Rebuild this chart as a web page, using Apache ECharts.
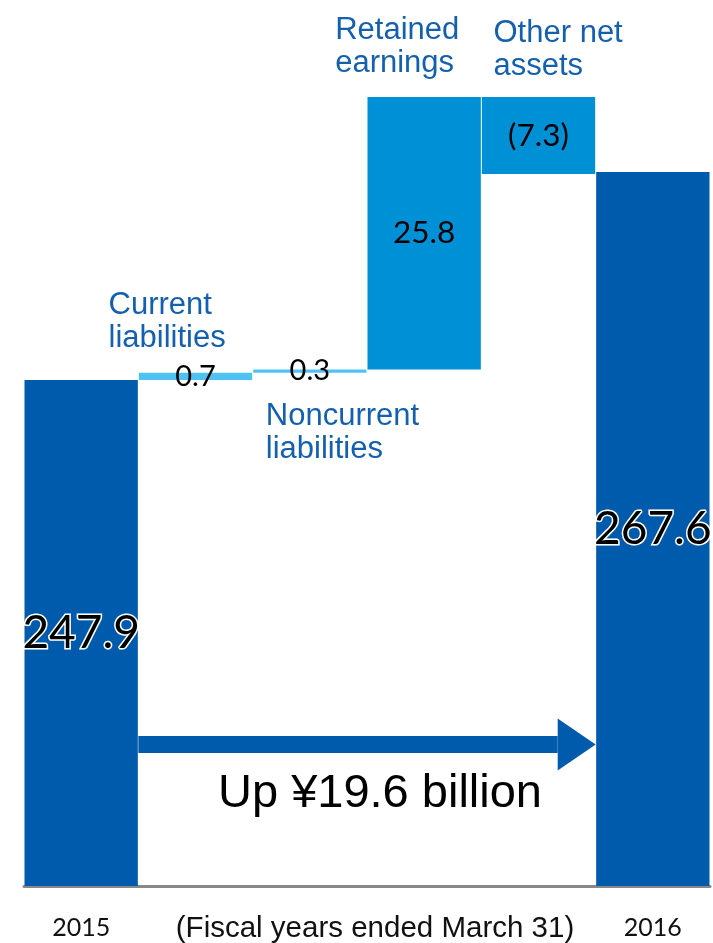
<!DOCTYPE html>
<html>
<head>
<meta charset="utf-8">
<script src="https://cdn.jsdelivr.net/npm/echarts@6/dist/echarts.min.js"></script>
<style>
html,body{margin:0;padding:0;background:#fff;}
#chart{width:713px;height:943px;}
</style>
</head>
<body>
<div id="chart"></div>
<script>
// ---- data ----
const categories = ['2015', 'Current liabilities', 'Noncurrent liabilities', 'Retained earnings', 'Other net assets', '2016'];
const tickLabels = ['2015', '', '', '', '', '2016'];
const changes = [247.9, 0.7, 0.3, 25.8, -7.3, 267.6];   // first & last are totals
const valueLabels = ['247.9', '0.7', '0.3', '25.8', '(7.3)', '267.6'];
const annotations = ['Current\nliabilities', 'Noncurrent\nliabilities', 'Retained\nearnings', 'Other net\nassets'];
const changeText = 'Up ¥19.6 billion';
const axisNote = '(Fiscal years ended March 31)';

// ---- build waterfall ----
const DARK = '#005BAC', MID = '#0090D5', LIGHT = '#4EC3F1';
const baseVals = [], barVals = [];
let running = 0;
changes.forEach((c, i) => {
  if (i === 0 || i === changes.length - 1) {
    baseVals.push(0); barVals.push(Math.abs(c)); running = c;
  } else if (c >= 0) {
    baseVals.push(running); barVals.push(c); running += c;
  } else {
    running += c; baseVals.push(running); barVals.push(-c);
  }
});
const colorFor = i => (i === 0 || i === 5) ? DARK : (i <= 2 ? LIGHT : MID);
const smallSize = i => (i <= 2 ? 29 : 31.5);

const chart = echarts.init(document.getElementById('chart'), null, {renderer: 'canvas'});
const numFont = 'Lato';

const option = {
  animation: false,
  grid: {left: 24, right: 3, top: 41, bottom: 57},
  xAxis: {
    type: 'category',
    data: tickLabels,
    axisTick: {show: false},
    axisLine: {lineStyle: {color: '#888', width: 3}},
    axisLabel: {color: '#111', fontFamily: numFont, fontSize: 25, margin: 29, interval: 0}
  },
  yAxis: {type: 'value', min: 200, max: 280, show: false, splitLine: {show: false}},
  series: [
    {
      type: 'bar', stack: 'w', data: baseVals,
      itemStyle: {color: 'transparent'}, silent: true,
      barCategoryGap: 1
    },
    {
      type: 'bar', stack: 'w',
      barCategoryGap: 1,
      data: barVals.map((v, i) => {
        const big = (i === 0 || i === 5);
        return {
          value: v,
          itemStyle: {color: colorFor(i)},
          label: big ? {
            show: true, position: 'inside', formatter: valueLabels[i],
            fontFamily: numFont, fontSize: 46, color: '#000',
            textBorderColor: '#fff', textBorderWidth: 3
          } : {
            show: true, position: 'inside', formatter: valueLabels[i],
            fontFamily: numFont, fontSize: smallSize(i), color: '#000'
          }
        };
      })
    }
  ]
};
chart.setOption(option);

// ---- annotations positioned from axes ----
const px = (i, v) => chart.convertToPixel({xAxisIndex: 0, yAxisIndex: 0}, [i, v]);
const c0 = px(0, 200), c1 = px(1, 200), c5 = px(5, 200);
const bw = c1[0] - c0[0];
const arrowY = px(0, 213.4)[1];
const x0 = c0[0] + bw / 2, x1 = c5[0] - bw / 2;
const labelColor = '#1560AD';
const labelFont = '31px "Liberation Sans", Arial, sans-serif';

const annPos = [
  {i: 1, dx: -87, y: 289},
  {i: 2, dx: -44, y: 400},
  {i: 3, dx: -89, y: 14},
  {i: 4, dx: -45, y: 17}
];

const graphics = annPos.map((p, k) => ({
  type: 'text',
  x: px(p.i, 200)[0] + p.dx, y: p.y,
  style: {text: annotations[k], font: labelFont, fill: labelColor, lineHeight: 33, textAlign: 'left', textVerticalAlign: 'top'}
}));

graphics.push(
  {type: 'rect', shape: {x: x0, y: arrowY - 8.5, width: (x1 - 38) - x0, height: 17}, style: {fill: DARK}},
  {type: 'polygon', shape: {points: [[x1 - 38, arrowY - 26], [x1, arrowY], [x1 - 38, arrowY + 26]]}, style: {fill: DARK}},
  {type: 'text', x: (x0 + x1) / 2 + 13, y: 794,
   style: {text: changeText, font: '47px "Liberation Sans", Arial, sans-serif', fill: '#000', textAlign: 'center', textVerticalAlign: 'middle'}},
  {type: 'text', x: 375, y: 929,
   style: {text: axisNote, font: '29.5px "Liberation Sans", Arial, sans-serif', fill: '#111', textAlign: 'center', textVerticalAlign: 'middle'}}
);
chart.setOption({graphic: graphics});
</script>
</body>
</html>
